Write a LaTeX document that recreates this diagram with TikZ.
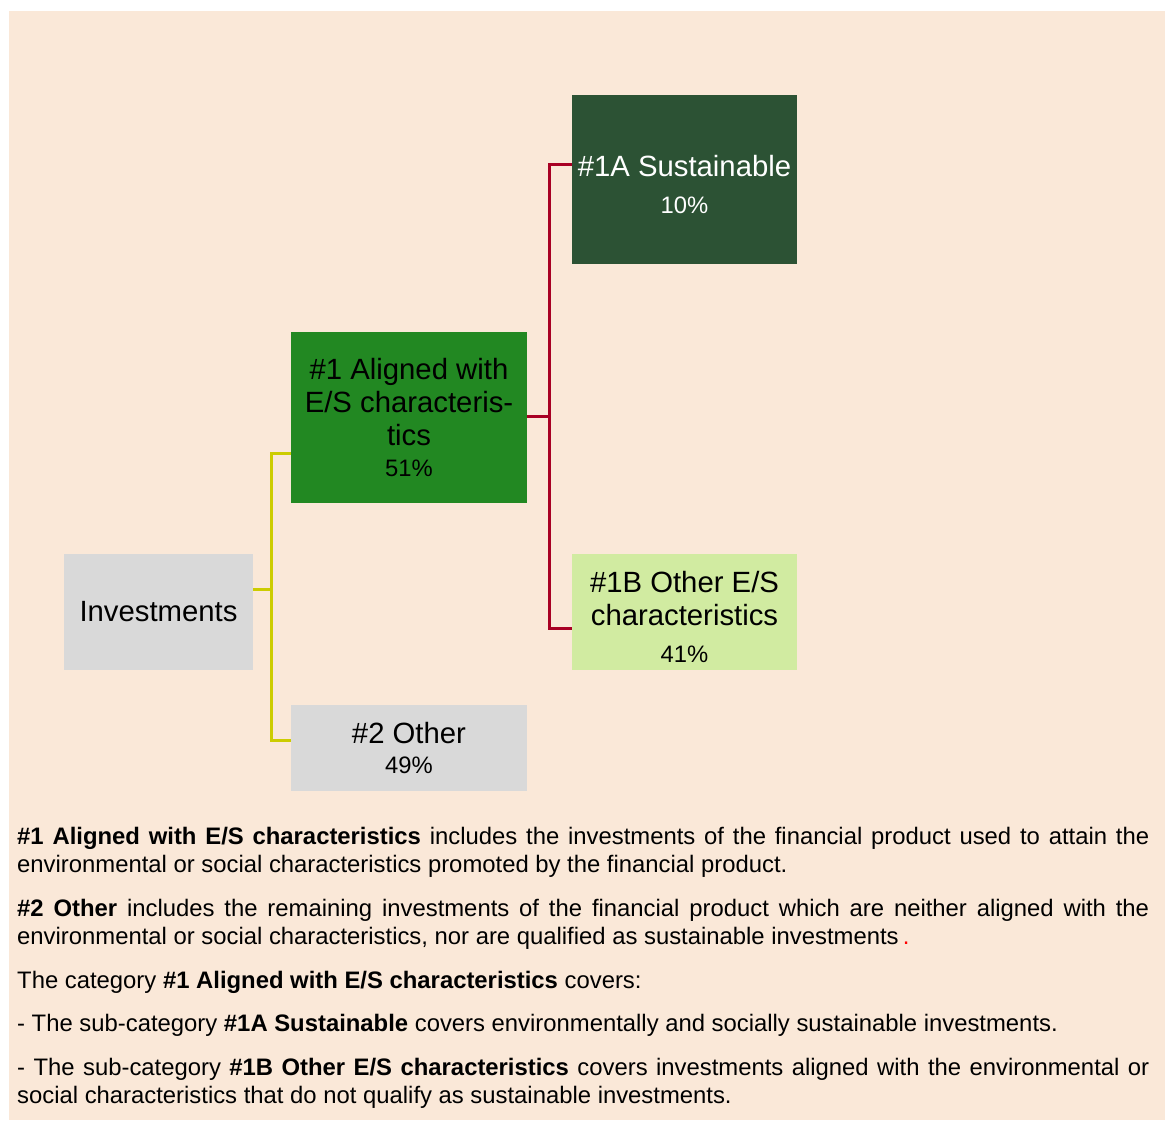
\documentclass[tikz,border=0pt]{standalone}
\usepackage{fontspec}
\setmainfont{Liberation Sans}

\definecolor{paper}{RGB}{250,232,216}
\definecolor{pine}{RGB}{44,82,52}
\definecolor{forest}{RGB}{34,136,34}
\definecolor{mint}{RGB}{209,235,161}
\definecolor{ash}{RGB}{217,217,217}
\definecolor{mustard}{RGB}{204,204,0}
\definecolor{claret}{RGB}{168,0,36}

\newcommand{\pct}[1]{{\fontsize{23.8}{29}\selectfont #1}}
\newcommand{\lift}{\rule{0pt}{31pt}}

\begin{document}
\begin{tikzpicture}[
    x = 1pt, y = -1pt,
    box/.style = {
        inner sep = 0pt,
        align = center,
        font = \fontsize{29.3}{33}\selectfont
    },
    wide/.style = {minimum width = 236pt},
    narrow/.style = {minimum width = 225pt},
    ylink/.style = {draw = mustard, line width = 3pt},
    rlink/.style = {draw = claret, line width = 3pt}
]

\useasboundingbox (0,0) rectangle (1165,1120);
\fill[paper] (9,11) rectangle (1165,1120);

% boxes
\node[box, fill = ash, minimum width = 189pt, minimum height = 116pt]
    (inv) at (158.5,612) {Investments};
\node[box, wide, fill = forest, minimum height = 171pt]
    (aligned) at (409,417.5) {\#1 Aligned with\\E/S characteris-\\tics\\[-2pt]\pct{51\%}};
\node[box, wide, fill = ash, minimum height = 86pt]
    (other) at (409,748) {\#2 Other\\[-3pt]\pct{49\%}};
\node[box, narrow, fill = pine, text = white, minimum height = 169pt]
    (sust) at (684.5,179.5) {\lift\#1A Sustainable\\[4pt]\pct{10\%}};
\node[box, narrow, fill = mint, minimum height = 116pt]
    (otheres) at (684.5,612) {\lift\#1B Other E/S\\characteristics\\[4pt]\pct{41\%}};

% connectors
\draw[ylink] ([yshift=23pt]inv.east) -- ++(18,0) |- ([yshift=-35.5pt]aligned.west);
\draw[ylink] ([yshift=23pt]inv.east) -- ++(18,0) |- ([yshift=8pt]other.west);
\draw[rlink] ([yshift=1pt]aligned.east) -- ++(22,0) |- ([yshift=15.5pt]sust.west);
\draw[rlink] ([yshift=1pt]aligned.east) -- ++(22,0) |- ([yshift=-16pt]otheres.west);

% notes
\node[anchor = north west, inner sep = 0pt, text width = 1132pt, align = justify,
      font = \fontsize{23.85}{28.5}\selectfont]
    (notes) at (17,827) {\parskip=15pt \hyphenpenalty=10000
    \textbf{\#1 Aligned with E/S characteristics} includes the investments of the financial product used to attain the\linebreak environmental or social characteristics promoted by the financial product.\par
    \textbf{\#2 Other} includes the remaining investments of the financial product which are neither aligned with the\linebreak environmental or social characteristics, nor are qualified as sustainable investments\kern4pt{\color{red}.}\par
    The category \textbf{\#1 Aligned with E/S characteristics} covers:\par
    - The sub-category \textbf{\#1A Sustainable} covers environmentally and socially sustainable investments.\par
    - The sub-category \textbf{\#1B Other E/S characteristics} covers investments aligned with the environmental or\linebreak social characteristics that do not qualify as sustainable investments.};

\end{tikzpicture}
\end{document}
